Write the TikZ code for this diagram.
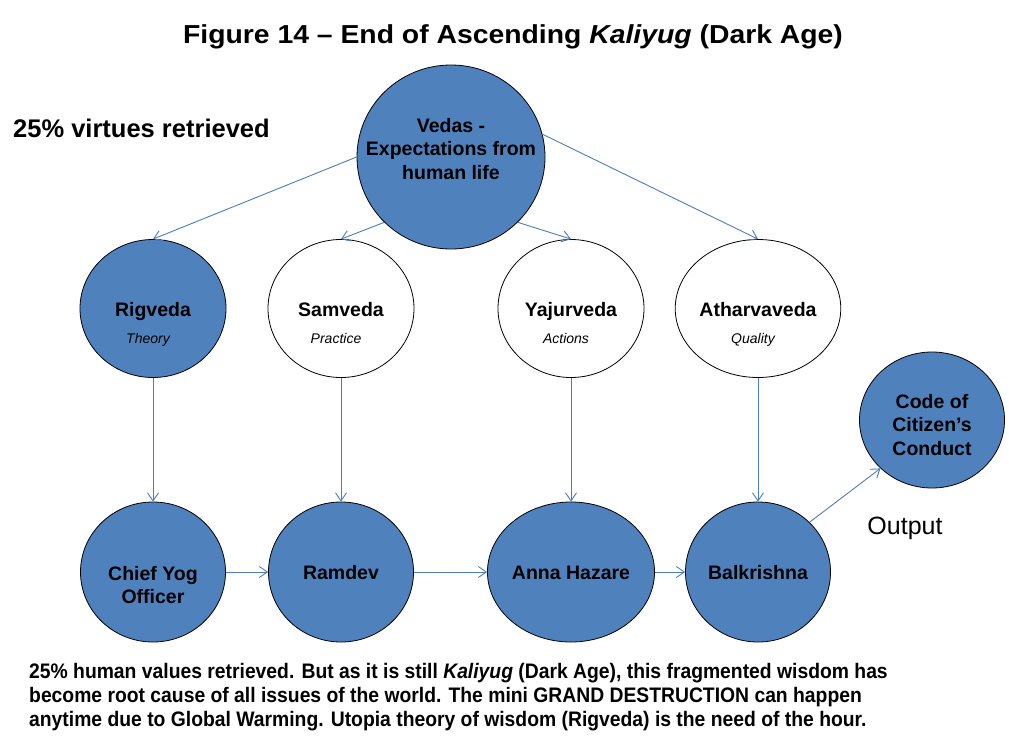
\documentclass[tikz,border=0pt]{standalone}
\usepackage{fontspec}
\setmainfont{Liberation Sans}
\newfontfamily\narrowsans[FakeStretch=0.92,Ligatures=TeX]{Liberation Sans}
\newfontfamily\widesans[FakeStretch=1.09,Ligatures=TeX]{Liberation Sans}
\usepackage{tikz}
\usetikzlibrary{arrows.meta,positioning,shapes.geometric}
\definecolor{vedblue}{HTML}{4F81BD}
\definecolor{linkblue}{HTML}{4A7EBB}

\begin{document}
\begin{tikzpicture}[x=1pt,y=-1pt,>={Straight Barb[length=8pt,width=11pt]},
 b/.style={ellipse,draw=black,line width=0.8pt,fill=vedblue,inner sep=0pt,
   minimum width=146pt,minimum height=138pt,text height=15pt,text depth=0pt,
   font=\bfseries\fontsize{19.5}{23.5}\selectfont},
 w/.style={b,fill=white},
 lo/.style={b,minimum width=145pt,minimum height=140pt},
 ml/.style={align=center,font=\bfseries\fontsize{19.5}{23.5}\selectfont},
 sub/.style={font=\itshape\fontsize{14}{16}\selectfont,text height=10pt,text depth=0pt,xshift=-5pt,yshift=-30pt},
 c/.style={->,draw=linkblue,line width=0.9pt}]
\useasboundingbox (0,0) rectangle (1009,755);
\node[anchor=base,font=\widesans\bfseries\fontsize{26}{30}\selectfont] (title) at (513,43)
 {Figure 14 – End of Ascending \textit{Kaliyug} (Dark Age)};
\node[anchor=base west,inner sep=0pt,font=\bfseries\fontsize{25.5}{30}\selectfont] (virt) at (13,137)
 {25\% virtues retrieved};
% the source
\node[b,minimum width=188pt,minimum height=184pt,
 label={[ml,yshift=8pt]center:Vedas -\\Expectations from\\human life}] (vedas) at (451,157) {};
% the four vedas
\node[b,label={[sub]center:Theory}] (rig) at (153,308.5) {Rigveda};
\node[w,label={[sub]center:Practice}] (sam) at (341,308.5) {Samveda};
\node[w,label={[sub]center:Actions}] (yaj) at (571,308.5) {Yajurveda};
\node[w,label={[sub]center:Quality}] (ath) at (758,308.5) {Atharvaveda};
% the people
\node[lo,label={[ml,yshift=-13pt]center:Chief Yog\\Officer}] (chief) at (153,572) {};
\node[lo] (ram) at (341,572) {Ramdev};
\node[lo] (anna) at (571,572) {Anna Hazare};
\node[lo] (bal) at (758,572) {Balkrishna};
\node[b,minimum width=145pt,minimum height=136pt,
 label={[ml,yshift=-5pt]center:Code of\\Citizen's\\Conduct}] (code) at (932,420) {};
\node[anchor=base,font=\fontsize{25}{29}\selectfont] (out) at (905,534) {Output};
\draw[c] (vedas.west) -- (rig.north);
\draw[c] (vedas.south west) -- (sam.north);
\draw[c] (vedas.south east) -- (yaj.north);
\draw[c] (vedas.14) -- (ath.north);
\draw[c] (rig) -- (chief);
\draw[c] (sam) -- (ram);
\draw[c] (yaj) -- (anna);
\draw[c] (ath) -- (bal);
\draw[c] (chief) -- (ram);
\draw[c] (ram) -- (anna);
\draw[c] (anna) -- (bal);
\draw[c] (bal.north east) -- (code.south west);
\node[anchor=north west,inner sep=0pt,align=left,font=\narrowsans\bfseries\fontsize{21}{24}\selectfont] (note) at (29,663)
 {25\% human values retrieved. But as it is still \textit{Kaliyug} (Dark Age), this fragmented wisdom has\\
  become root cause of all issues of the world. The mini GRAND DESTRUCTION can happen\\
  anytime due to Global Warming. Utopia theory of wisdom (Rigveda) is the need of the hour.};
\end{tikzpicture}
\end{document}
